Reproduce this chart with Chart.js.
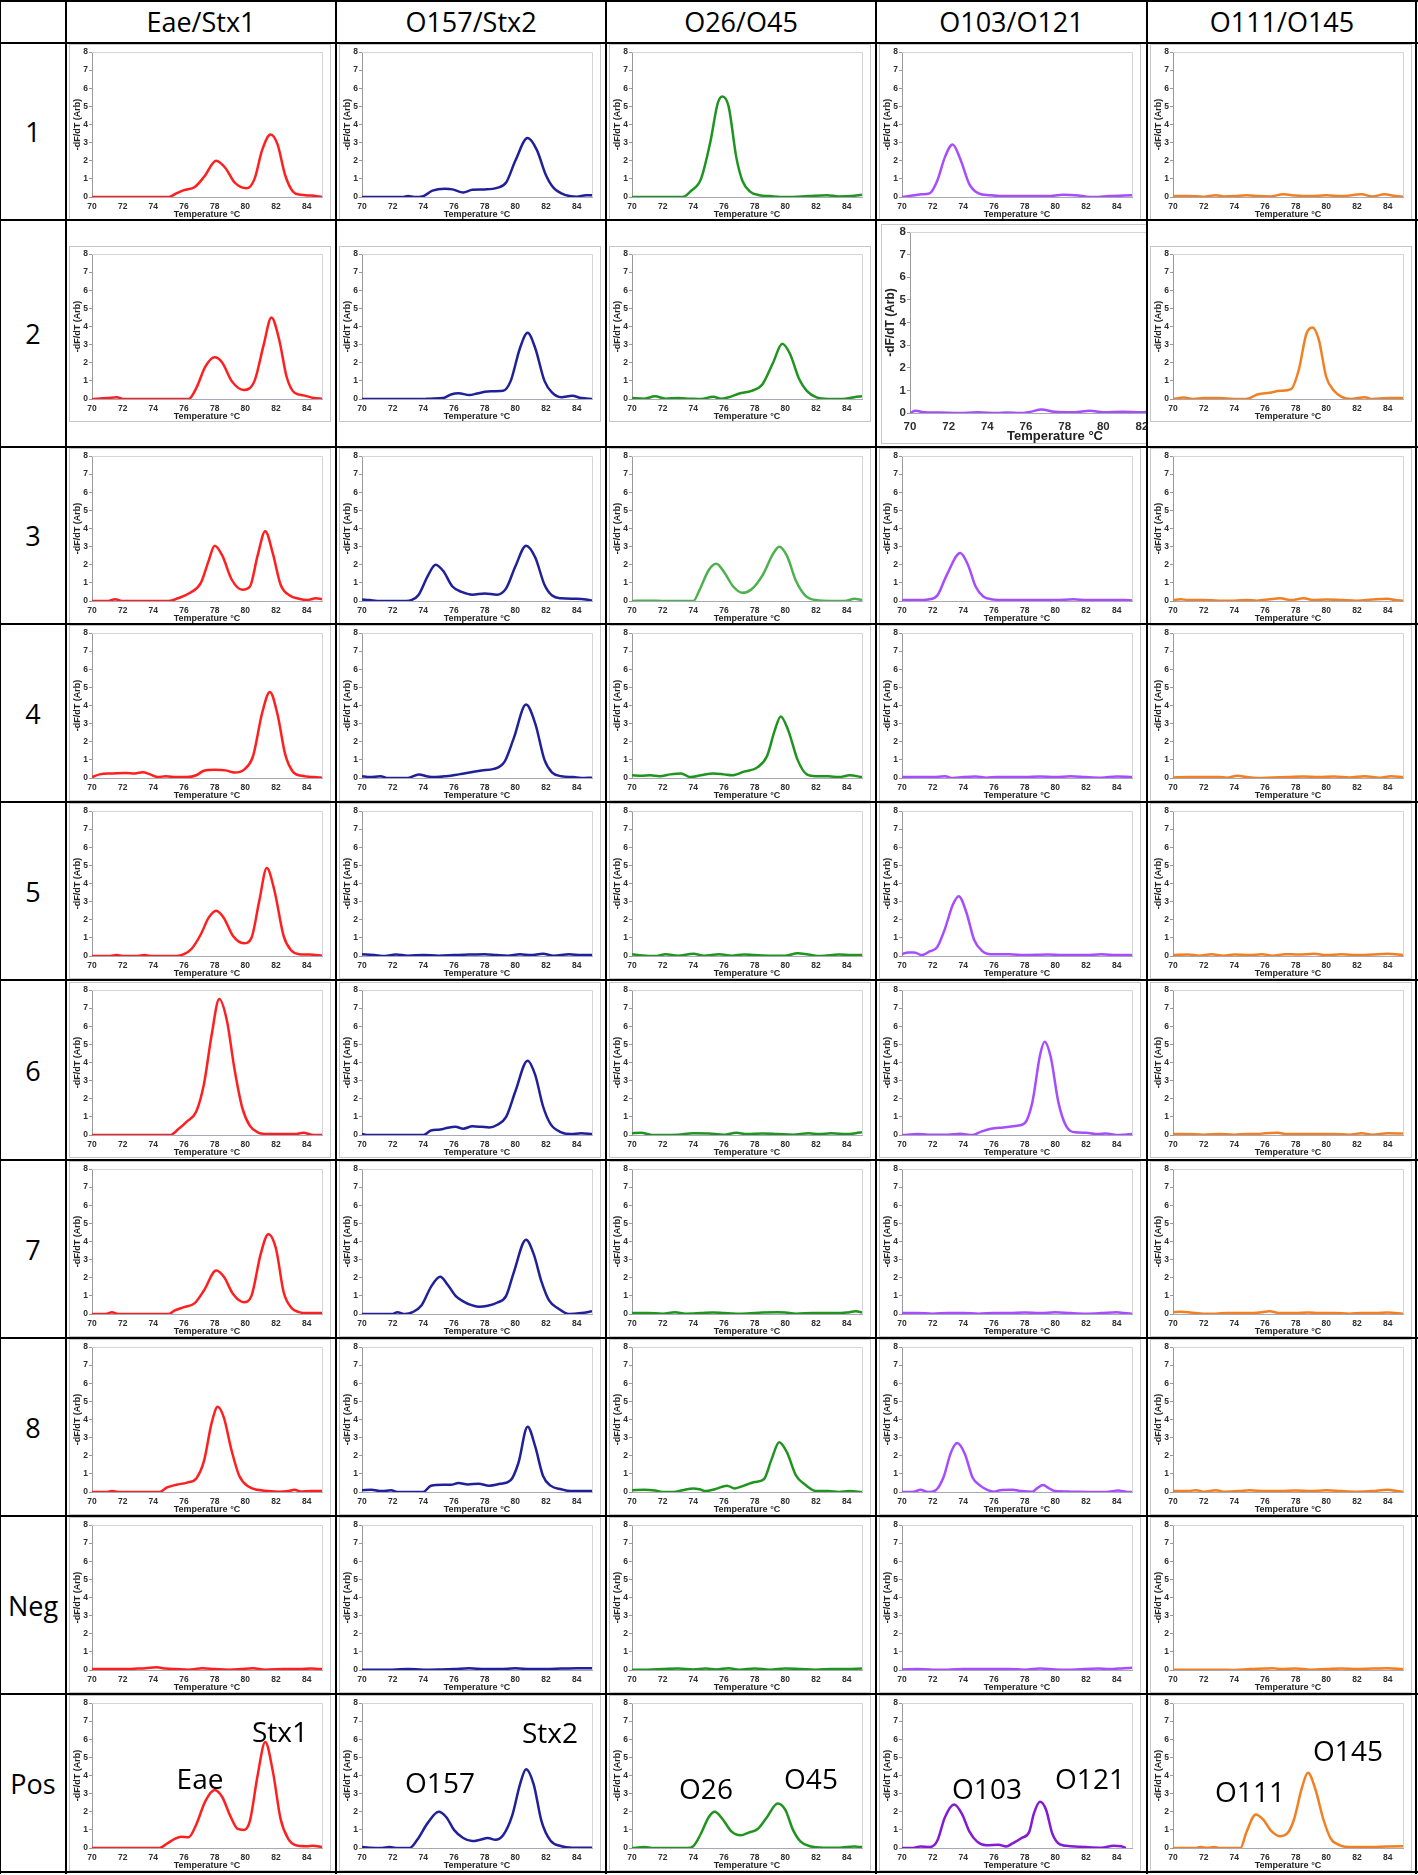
<!DOCTYPE html>
<html>
<head>
<meta charset="utf-8">
<script src="https://cdn.jsdelivr.net/npm/chart.js@4.4.1/dist/chart.umd.min.js"></script>
<style>
  body { margin: 0; background: #fff; }
  #page { position: relative; width: 1418px; height: 1875px; overflow: hidden; background: #fff; }
  .rule { position: absolute; background: #000; z-index: 5; }
  .label { position: absolute; display: flex; align-items: center; justify-content: center;
           font-family: 'Open Sans', 'Liberation Sans', sans-serif; font-size: 27px; color: #000; }
  .cell { position: absolute; overflow: hidden; }
  .frame { position: absolute; border: 1px solid #c6c6c6; box-sizing: border-box; }
  .cell canvas { position: absolute; }
  .note { position: absolute; transform: translate(-50%, -50%); white-space: nowrap; z-index: 4;
          font-family: 'Open Sans', 'Liberation Sans', sans-serif; font-size: 28px; color: #000; }
</style>
</head>
<body>
<div id="page"></div>
<script>
// ---- data ----
const columns = ['Eae/Stx1', 'O157/Stx2', 'O26/O45', 'O103/O121', 'O111/O145'];
const rowLabels = ['1', '2', '3', '4', '5', '6', '7', '8', 'Neg', 'Pos'];
const xTicks = [70, 72, 74, 76, 78, 80, 82, 84];
const yTicks = [0, 1, 2, 3, 4, 5, 6, 7, 8];

// melt curves: [temperature °C, -dF/dT]
const eaeStx1_1 = [[70,0],[75,0],[75.5,0.2],[76,0.38],[76.7,0.55],[77.3,1.1],[78.1,2.0],[78.7,1.6],[79.3,0.8],[80.1,0.48],[80.6,1.0],[81.1,2.6],[81.65,3.45],[82.1,2.9],[82.6,1.2],[83.1,0.3],[83.6,0.12],[84.3,0.08],[85,0]];
const o157Stx2_1 = [[70,0],[72.7,0],[73,0.05],[73.4,0],[74,0.05],[74.6,0.35],[75.4,0.45],[75.9,0.42],[76.6,0.25],[77.2,0.4],[78,0.42],[78.8,0.5],[79.4,0.8],[80,2.0],[80.8,3.25],[81.4,2.6],[82,1.2],[82.5,0.5],[83.3,0.1],[84,0.02],[84.6,0.1],[85,0.1]];
const o26O45_1 = [[70,0],[73.3,0],[73.8,0.3],[74.5,1.0],[75.1,3.0],[75.6,5.2],[75.9,5.55],[76.3,5.0],[76.8,2.2],[77.2,0.9],[77.7,0.3],[78.3,0.1],[79,0.05],[80,0],[81.5,0.05],[82.7,0.1],[83.5,0.03],[84.3,0.05],[85,0.12]];
const o103O121_1 = [[70,0],[70.8,0.1],[71.3,0.15],[71.8,0.2],[72.3,0.9],[72.8,2.2],[73.3,2.9],[73.8,2.1],[74.4,0.7],[75,0.2],[75.7,0.1],[76.5,0.05],[78,0.05],[79.5,0.05],[80.5,0.12],[81.5,0.08],[82,0.02],[82.5,0],[83.5,0.05],[85,0.1]];
const o111O145_1 = [[70,0.05],[71,0.05],[72,0.02],[72.8,0.1],[73.3,0.03],[74,0.05],[74.8,0.1],[75.6,0.05],[76.3,0.03],[77.2,0.15],[78,0.08],[79,0.05],[80,0.1],[81,0.05],[82.3,0.15],[83,0.03],[83.8,0.15],[84.5,0.05],[85,0.02]];

const eaeStx1_2 = [[70,0],[71,0.05],[71.6,0.1],[72.1,0],[76.3,0],[76.8,0.6],[77.4,1.8],[78,2.3],[78.5,2.0],[79.1,1.0],[79.9,0.5],[80.6,1.0],[81.2,3.0],[81.7,4.5],[82.2,3.3],[82.7,1.2],[83.2,0.35],[83.8,0.2],[84.5,0.05],[85,0.02]];
const o157Stx2_2 = [[70,0],[74,0],[74.5,0.02],[75.3,0.05],[75.8,0.25],[76.3,0.32],[77,0.22],[77.5,0.3],[78.2,0.42],[79.2,0.45],[79.7,1.0],[80.3,2.8],[80.8,3.65],[81.3,2.8],[81.9,1.0],[82.4,0.35],[83,0.1],[83.7,0.18],[84.3,0.05],[85,0]];
const o26O45_2 = [[70,0.05],[70.8,0.02],[71.5,0.15],[72.2,0.02],[73,0.05],[73.8,0.02],[74.5,0],[75.3,0.12],[75.8,0.02],[76.3,0.1],[77,0.3],[77.8,0.45],[78.5,0.8],[79.2,2.0],[79.8,3.05],[80.3,2.5],[80.9,1.1],[81.4,0.45],[82,0.1],[82.8,0],[83.7,0],[84.5,0.1],[85,0.15]];
const o103O121_2 = [[70,0],[70.3,0.1],[70.7,0.03],[71.5,0.02],[72.5,0],[73.5,0.03],[74.5,0],[75,0.02],[75.7,0],[76.2,0.05],[76.8,0.15],[77.5,0.05],[78.5,0.03],[79.3,0.1],[80,0.03],[81,0.05],[82,0.03],[82.5,0.08],[83.5,0.05],[85,0.05]];
const o111O145_2 = [[70,0],[70.7,0.08],[71.3,0],[72,0.05],[73,0.05],[73.5,0.03],[74.5,0],[75,0.05],[75.5,0.25],[76.3,0.35],[77,0.45],[77.7,0.55],[78.2,1.6],[78.7,3.6],[79.1,3.95],[79.5,3.3],[80,1.2],[80.5,0.45],[81,0.12],[81.6,0],[82.5,0.1],[83,0],[84,0.05],[85,0.05]];

const eaeStx1_3 = [[70,0],[71,0],[71.5,0.1],[72,0],[75,0],[75.6,0.15],[76.4,0.45],[77.1,1.0],[77.6,2.2],[78,3.05],[78.5,2.5],[79.1,1.2],[79.8,0.62],[80.3,0.8],[80.8,2.5],[81.3,3.85],[81.8,2.6],[82.3,0.9],[82.9,0.3],[83.5,0.12],[84,0.05],[84.6,0.15],[85,0.1]];
const o157Stx2_3 = [[70,0.08],[70.5,0.05],[71,0],[72.5,0],[73.2,0.05],[73.7,0.35],[74.3,1.4],[74.8,2.0],[75.3,1.65],[75.9,0.8],[76.5,0.5],[77.2,0.35],[78,0.42],[78.8,0.35],[79.4,0.7],[80,1.9],[80.7,3.05],[81.3,2.4],[81.9,0.9],[82.4,0.3],[83,0.15],[84,0.12],[84.6,0.08],[85,0.02]];
const o26O45_3 = [[70,0],[71,0.02],[72.2,0],[74,0],[74.4,0.6],[75,1.7],[75.5,2.05],[76,1.6],[76.6,0.8],[77.2,0.45],[77.8,0.65],[78.5,1.4],[79.2,2.6],[79.6,3.0],[80.1,2.5],[80.7,1.1],[81.3,0.3],[82,0.05],[83,0],[84,0.02],[84.5,0.12],[85,0.05]];
const o103O121_3 = [[70,0.05],[71,0.05],[71.7,0.08],[72.3,0.3],[72.9,1.4],[73.8,2.65],[74.3,2.0],[74.8,0.8],[75.3,0.25],[75.8,0.1],[77,0.05],[78.5,0.05],[80,0.05],[81.2,0.1],[82,0.05],[83.5,0.05],[84.5,0.05],[85,0.03]];
const o111O145_3 = [[70,0.05],[70.5,0.1],[71,0.05],[72,0.05],[73,0.02],[74,0.02],[74.8,0.05],[75.5,0.02],[76.3,0.1],[77,0.15],[77.7,0.05],[78.5,0.15],[79.2,0.05],[80,0.08],[81,0.05],[82,0.02],[83,0.08],[84,0.12],[84.5,0.05],[85,0.02]];

const eaeStx1_4 = [[70,0.05],[70.5,0.2],[71.3,0.25],[72.2,0.28],[72.8,0.25],[73.3,0.32],[73.8,0.2],[74.3,0.05],[74.8,0.1],[75.5,0.05],[76.2,0.05],[76.8,0.15],[77.3,0.4],[78,0.45],[78.7,0.42],[79.3,0.3],[79.9,0.45],[80.5,1.2],[81.1,3.6],[81.6,4.75],[82.1,3.5],[82.6,1.3],[83.1,0.35],[83.7,0.12],[84.5,0.05],[85,0.02]];
const o157Stx2_4 = [[70,0.1],[70.5,0.05],[71.2,0.1],[71.7,0],[73,0],[73.7,0.2],[74.3,0.08],[74.8,0.05],[75.5,0.1],[76.3,0.2],[77,0.3],[77.8,0.42],[78.6,0.5],[79.3,0.9],[79.9,2.2],[80.7,4.05],[81.3,3.0],[81.9,1.0],[82.4,0.3],[83,0.1],[83.8,0.05],[84.3,0],[85,0.02]];
const o26O45_4 = [[70,0.15],[70.6,0.12],[71.2,0.15],[71.8,0.1],[72.5,0.2],[73.2,0.25],[73.8,0.05],[74.5,0.15],[75.3,0.25],[76,0.2],[76.5,0.15],[77.3,0.35],[78.2,0.6],[78.8,1.2],[79.3,2.6],[79.7,3.4],[80.2,2.6],[80.8,1.0],[81.4,0.2],[82,0.1],[82.8,0.1],[83.5,0.05],[84.2,0.15],[85,0.05]];
const o103O121_4 = [[70,0.05],[71,0.05],[72,0.05],[72.8,0.1],[73.3,0],[74,0.05],[74.8,0.08],[75.5,0.02],[76.2,0.05],[77,0.05],[78,0.05],[79,0.08],[80,0.05],[81,0.1],[82,0.05],[83,0.02],[84,0.08],[85,0.05]];
const o111O145_4 = [[70,0.03],[71,0.05],[72,0.05],[73,0.05],[73.5,0.02],[74.2,0.12],[74.8,0.05],[75.5,0],[76.5,0.03],[77.5,0.05],[78.5,0.08],[79.5,0.05],[80.5,0.08],[81.5,0.03],[82.5,0.1],[83.5,0.02],[84.2,0.1],[85,0.05]];

const eaeStx1_5 = [[70,0],[71.2,0],[71.6,0.05],[72,0],[73,0],[73.4,0.05],[73.8,0],[75.5,0],[76,0.1],[76.5,0.4],[77.1,1.2],[77.6,2.1],[78.1,2.5],[78.6,2.1],[79.2,1.1],[79.9,0.7],[80.4,1.0],[80.9,3.0],[81.4,4.85],[81.9,3.6],[82.5,1.1],[83,0.3],[83.5,0.1],[84.2,0.08],[85,0.02]];
const o157Stx2_5 = [[70,0.1],[70.8,0.05],[71.5,0],[72.2,0.08],[73,0.02],[74,0.05],[75,0.02],[76,0.05],[77,0.08],[78,0.1],[78.8,0.05],[79.5,0.02],[80.3,0.1],[81,0.05],[81.8,0.12],[82.5,0.02],[83.5,0.1],[84.3,0.05],[85,0.05]];
const o26O45_5 = [[70,0.1],[70.7,0.03],[71.5,0],[72.2,0.1],[73,0.02],[74,0.12],[74.7,0.02],[75.7,0.1],[76.5,0.02],[77.3,0.08],[78,0.05],[79,0.02],[80,0.02],[80.8,0.15],[81.5,0.08],[82.3,0],[83.5,0.08],[84.3,0.05],[85,0.05]];
const o103O121_5 = [[70,0.1],[70.4,0.2],[70.8,0.2],[71.3,0.05],[71.8,0.25],[72.3,0.5],[72.8,1.5],[73.3,2.8],[73.7,3.3],[74.2,2.4],[74.7,0.9],[75.2,0.3],[75.8,0.1],[77,0.1],[78,0.05],[79.5,0.08],[80.5,0.05],[82,0.05],[83,0.1],[84,0.05],[85,0.05]];
const o111O145_5 = [[70,0.05],[71,0.08],[71.7,0.02],[72.5,0.1],[73.3,0.02],[74,0.08],[75,0.05],[75.8,0.1],[76.5,0.02],[77.3,0.1],[78.2,0.08],[79.2,0.12],[80,0.05],[81,0.1],[82,0.05],[83,0.08],[84,0.12],[85,0.05]];

const eaeStx1_6 = [[70,0],[75.1,0],[75.6,0.3],[76.2,0.75],[76.8,1.3],[77.3,2.8],[77.8,5.5],[78.3,7.5],[78.8,6.3],[79.3,3.6],[79.8,1.5],[80.3,0.5],[80.8,0.15],[81.5,0.05],[82.5,0.05],[83.2,0.05],[83.8,0.12],[84.3,0.02],[85,0]];
const o157Stx2_6 = [[70,0.05],[70.4,0],[74,0],[74.5,0.25],[75.1,0.3],[75.6,0.4],[76.1,0.45],[76.6,0.35],[77.2,0.48],[77.8,0.45],[78.3,0.42],[78.8,0.55],[79.4,1.0],[80,2.4],[80.8,4.1],[81.3,3.3],[81.8,1.6],[82.3,0.6],[83,0.15],[83.6,0.05],[84.3,0.1],[85,0.05]];
const o26O45_6 = [[70,0.1],[70.6,0.12],[71.2,0.02],[72,0],[73,0.02],[74,0.1],[75,0.08],[76,0.02],[76.8,0.12],[77.5,0.05],[78.5,0.08],[79.5,0.05],[80.5,0.02],[81.5,0.1],[82.2,0.05],[83,0.1],[84,0.05],[84.6,0.1],[85,0.15]];
const o103O121_6 = [[70,0],[71,0.05],[71.7,0.02],[73,0.02],[73.8,0.07],[74.6,0],[75.2,0.2],[75.8,0.35],[76.6,0.42],[77.4,0.5],[78,0.65],[78.5,1.8],[79,4.4],[79.3,5.15],[79.7,4.3],[80.2,1.8],[80.7,0.5],[81.3,0.15],[82,0.12],[82.8,0.05],[83.3,0.08],[84,0],[84.5,0.02],[85,0.05]];
const o111O145_6 = [[70,0.05],[71,0.05],[72,0.02],[73,0.05],[74,0.02],[74.8,0.05],[75.5,0.05],[76,0.1],[76.8,0.12],[77.5,0.05],[78.5,0.05],[79.5,0.05],[80.5,0.05],[81.5,0.02],[82.3,0.1],[83,0.02],[84,0.1],[85,0.08]];

const eaeStx1_7 = [[70,0],[70.9,0],[71.3,0.1],[71.7,0],[75,0],[75.4,0.2],[76,0.38],[76.7,0.6],[77.3,1.3],[78.1,2.4],[78.6,2.05],[79.2,1.1],[79.9,0.65],[80.4,1.0],[81,3.3],[81.5,4.4],[82,3.6],[82.5,1.2],[83,0.35],[83.5,0.1],[84,0.05],[85,0.05]];
const o157Stx2_7 = [[70,0],[72,0],[72.3,0.1],[72.8,0],[73.3,0.1],[73.9,0.5],[74.5,1.5],[75.1,2.05],[75.6,1.6],[76.1,1.0],[76.6,0.7],[77.1,0.5],[77.6,0.4],[78.2,0.45],[78.8,0.62],[79.4,1.0],[79.9,2.3],[80.7,4.1],[81.2,3.3],[81.7,1.8],[82.2,0.75],[82.8,0.3],[83.5,0],[84.3,0.05],[85,0.15]];
const o26O45_7 = [[70,0.05],[71,0.05],[72,0.02],[72.8,0.1],[73.5,0.02],[74.5,0.05],[75.3,0.08],[76,0.05],[76.8,0.02],[77.5,0.03],[78.5,0.08],[79.5,0.1],[80,0.08],[80.7,0.02],[81.8,0.05],[82.5,0.05],[83.3,0.05],[84,0.08],[84.6,0.15],[85,0.08]];
const o103O121_7 = [[70,0.05],[71,0.05],[72,0.02],[73,0.05],[74,0.05],[75,0.02],[76,0.05],[77,0.05],[78,0.08],[79,0.05],[80,0.1],[81,0.05],[82,0.02],[83,0.05],[84,0.1],[84.5,0.05],[85,0.02]];
const o111O145_7 = [[70,0.1],[70.5,0.12],[71,0.1],[71.5,0.05],[72,0.02],[72.8,0.02],[73.5,0.05],[74.3,0.05],[75,0.05],[75.8,0.1],[76.3,0.15],[77,0.05],[78,0.05],[78.8,0.08],[79.5,0.05],[80.5,0.05],[81.5,0.02],[82.3,0.05],[83.2,0.05],[84,0.08],[85,0.02]];

const eaeStx1_8 = [[70,0],[71,0],[71.3,0.05],[71.7,0],[74.4,0],[74.9,0.25],[75.5,0.4],[76.2,0.52],[76.8,0.75],[77.3,1.7],[77.8,3.8],[78.2,4.7],[78.6,4.1],[79.1,2.3],[79.6,0.9],[80.2,0.3],[80.8,0.12],[81.5,0.05],[82.2,0.02],[82.8,0.05],[83.2,0.12],[83.6,0.03],[84.3,0.05],[85,0.05]];
const o157Stx2_8 = [[70,0.1],[70.6,0.12],[71.3,0.05],[71.9,0.1],[72.3,0],[74,0],[74.5,0.35],[75.3,0.4],[75.8,0.4],[76.3,0.5],[76.9,0.42],[77.6,0.45],[78.3,0.35],[79,0.45],[79.7,0.65],[80.2,1.6],[80.8,3.6],[81.3,2.5],[81.8,0.9],[82.3,0.35],[83,0.15],[83.6,0.05],[85,0.05]];
const o26O45_8 = [[70,0.1],[70.8,0.12],[71.5,0.08],[72,0],[72.7,0],[73.3,0.1],[74,0.2],[74.4,0.15],[74.8,0.05],[75.4,0.15],[76.2,0.35],[76.7,0.2],[77.3,0.35],[78,0.55],[78.6,0.7],[79.1,1.8],[79.6,2.75],[80.1,2.2],[80.7,0.9],[81.3,0.4],[82,0.05],[82.8,0.05],[83.5,0],[84.2,0.05],[85,0]];
const o103O121_8 = [[70,0],[70.8,0.02],[71.2,0.12],[71.7,0],[72.2,0.1],[72.7,0.8],[73.2,2.2],[73.6,2.7],[74.1,2.1],[74.6,0.8],[75.1,0.35],[75.6,0.1],[76,0.02],[76.4,0.1],[77.2,0.12],[77.8,0.05],[78.5,0.02],[78.8,0.2],[79.2,0.38],[79.6,0.2],[80,0.05],[81,0.02],[82.5,0],[83.5,0.02],[84.1,0.08],[84.6,0.02],[85,0]];
const o111O145_8 = [[70,0.05],[71,0.05],[71.5,0.1],[72,0.02],[72.8,0.1],[73.3,0.02],[74.3,0.05],[75,0.1],[76,0.05],[77,0.05],[78,0.08],[79,0.05],[80,0.1],[81,0.05],[82,0.02],[83,0.05],[84,0.12],[84.6,0.05],[85,0.02]];

const eaeStx1_neg = [[70,0.05],[71,0.05],[72,0.05],[73,0.08],[73.5,0.1],[74.2,0.15],[74.8,0.08],[75.5,0.05],[76.3,0.02],[77.2,0.1],[78,0.05],[79,0.02],[79.7,0.05],[80.5,0.1],[81.3,0.02],[82.5,0.05],[83.5,0.05],[84.3,0.08],[85,0.05]];
const o157Stx2_neg = [[70,0.02],[71,0.02],[72,0.02],[73,0.05],[74,0.02],[75,0.03],[76,0.05],[77,0.1],[78,0.05],[79,0.05],[80,0.1],[81,0.05],[82,0.05],[83,0.08],[84,0.1],[85,0.1]];
const o26O45_neg = [[70,0.02],[71,0.02],[72,0.05],[73,0.08],[74,0.03],[74.8,0.08],[75.5,0.03],[76.3,0.1],[77,0.02],[78,0.08],[79,0.02],[80,0.08],[81,0.05],[82,0.02],[83,0.05],[84,0.05],[85,0.08]];
const o103O121_neg = [[70,0.03],[71,0.05],[72,0.02],[73,0.02],[74,0.05],[75,0.05],[76,0.05],[77,0.05],[78,0.02],[79,0.08],[80,0.03],[81,0.02],[82.8,0.08],[83.5,0.05],[84.5,0.1],[85,0.12]];
const o111O145_neg = [[70,0.02],[71,0.02],[72,0.02],[73,0.02],[74,0],[75,0.05],[76,0.08],[76.5,0.1],[77,0.05],[78,0.08],[79,0.02],[80,0.05],[81,0.08],[82,0.05],[83,0.08],[84,0.1],[85,0.05]];

const eaeStx1_pos = [[70,0],[74.4,0],[74.9,0.25],[75.4,0.5],[75.8,0.62],[76.3,0.6],[76.8,1.3],[77.4,2.6],[78,3.2],[78.5,2.8],[79,1.8],[79.5,1.05],[79.9,1.0],[80.3,1.5],[80.8,4.0],[81.3,5.85],[81.8,4.2],[82.3,1.6],[82.8,0.5],[83.3,0.15],[84,0.1],[84.4,0.12],[85,0.05]];
const o157Stx2_pos = [[70,0.05],[70.5,0.02],[71.3,0],[71.8,0.05],[72.2,0],[73.1,0],[73.6,0.45],[74.3,1.4],[75,2.0],[75.5,1.7],[76,1.0],[76.6,0.55],[77.2,0.38],[77.7,0.45],[78.2,0.55],[78.7,0.45],[79.2,0.7],[79.8,1.8],[80.3,3.5],[80.7,4.35],[81.2,3.5],[81.7,1.5],[82.3,0.4],[83,0.1],[83.7,0.02],[84.5,0.02],[85,0.02]];
const o26O45_pos = [[70,0],[70.8,0.05],[71.3,0],[73.6,0],[74,0.1],[74.5,0.8],[75,1.7],[75.4,2.0],[75.9,1.6],[76.5,0.9],[77.1,0.7],[77.6,0.85],[78.2,1.05],[78.8,1.7],[79.5,2.45],[80,2.1],[80.5,1.0],[81,0.35],[81.6,0.1],[82.5,0.02],[83.5,0.02],[84.5,0.08],[85,0.05]];
const o103O121_pos = [[70,0],[70.7,0],[71.2,0.08],[71.8,0.05],[72.3,0.4],[72.8,1.7],[73.4,2.4],[73.9,1.9],[74.4,0.9],[74.9,0.35],[75.5,0.15],[76.3,0.18],[76.8,0.08],[77.2,0.25],[77.8,0.55],[78.3,0.9],[78.6,1.9],[79,2.55],[79.4,2.1],[79.8,0.8],[80.3,0.2],[81,0.1],[82,0.05],[83,0.02],[83.8,0.12],[84.3,0.1],[84.6,0]];
const o111O145_pos = [[70,0],[71.5,0],[71.8,0.05],[72.2,0],[72.7,0.05],[73,0],[74.4,0],[74.8,0.9],[75.4,1.85],[75.9,1.55],[76.4,0.95],[77,0.65],[77.5,0.85],[77.9,1.6],[78.4,3.3],[78.8,4.15],[79.3,3.2],[79.8,1.6],[80.3,0.5],[80.9,0.15],[81.5,0.05],[82.5,0.05],[84,0.08],[85,0.1]];

const posLabels = [['Eae', 'Stx1'], ['O157', 'Stx2'], ['O26', 'O45'], ['O103', 'O121'], ['O111', 'O145']];

// ---- layout ----
const colColors = ['#ff1f1f', '#20209a', '#1f951f', '#a64dff', '#f28022'];
const colEdges = [0, 66, 336, 606, 876, 1147, 1417];
const rowEdges = [0, 43, 220, 447, 624, 802, 980, 1160, 1338, 1516, 1694, 1872];
const notePos = [[[200, 1778], [280, 1731]], [[440, 1782], [550, 1732]], [[706, 1788], [811, 1778]], [[987, 1788], [1090, 1778]], [[1250, 1791], [1348, 1750]]];

const curves = [
    [eaeStx1_1, o157Stx2_1, o26O45_1, o103O121_1, o111O145_1],
    [eaeStx1_2, o157Stx2_2, o26O45_2, o103O121_2, o111O145_2],
    [eaeStx1_3, o157Stx2_3, o26O45_3, o103O121_3, o111O145_3],
    [eaeStx1_4, o157Stx2_4, o26O45_4, o103O121_4, o111O145_4],
    [eaeStx1_5, o157Stx2_5, o26O45_5, o103O121_5, o111O145_5],
    [eaeStx1_6, o157Stx2_6, o26O45_6, o103O121_6, o111O145_6],
    [eaeStx1_7, o157Stx2_7, o26O45_7, o103O121_7, o111O145_7],
    [eaeStx1_8, o157Stx2_8, o26O45_8, o103O121_8, o111O145_8],
    [eaeStx1_neg, o157Stx2_neg, o26O45_neg, o103O121_neg, o111O145_neg],
    [eaeStx1_pos, o157Stx2_pos, o26O45_pos, o103O121_pos, o111O145_pos]
];

const smallSpec = { w: 262, h: 176, pad: { left: 3, top: 8, right: 9, bottom: 0 }, yw: 20, xh: 23,
    tick: 8.5, xTitle: 9, yTitle: 9, xPad: 5, line: 2.5 };
const bigSpec = { w: 340, h: 220, pad: { left: 2, top: 8, right: 21, bottom: 0 }, yw: 27, xh: 31,
    tick: 11.5, xTitle: 13, yTitle: 12, xPad: 7, line: 2.5 };

const page = document.getElementById('page');

const addDiv = (cls, css, text) => {
    const d = document.createElement('div');
    d.className = cls;
    Object.assign(d.style, css);
    if (text !== undefined) d.textContent = text;
    page.appendChild(d);
    return d;
};

// light frame on top and right of the plot area
const plotFrame = {
    id: 'plotFrame',
    beforeDatasetsDraw(chart) {
        const { ctx, chartArea: a } = chart;
        ctx.save();
        ctx.strokeStyle = '#d4d4d4';
        ctx.lineWidth = 1;
        ctx.beginPath();
        ctx.moveTo(a.left, a.top + 0.5);
        ctx.lineTo(a.right + 0.5, a.top + 0.5);
        ctx.lineTo(a.right + 0.5, a.bottom);
        ctx.stroke();
        ctx.restore();
    }
};

const tickFamily = "'Liberation Sans Narrow', 'Liberation Sans', Arial, sans-serif";
const titleFamily = "'Liberation Sans', Arial, sans-serif";

const drawCurve = (canvas, curve, color, s) => new Chart(canvas, {
    type: 'line',
    data: {
        datasets: [{
            data: curve,
            borderColor: color,
            borderWidth: s.line,
            pointRadius: 0,
            cubicInterpolationMode: 'monotone',
            fill: false
        }]
    },
    options: {
        responsive: false,
        animation: false,
        events: [],
        layout: { padding: s.pad },
        plugins: { legend: { display: false }, tooltip: { enabled: false } },
        scales: {
            x: {
                type: 'linear', min: 70, max: 85,
                afterBuildTicks: sc => { sc.ticks = xTicks.map(value => ({ value })); },
                afterFit: sc => { sc.height = s.xh; },
                grid: { drawOnChartArea: false, drawTicks: false },
                border: { color: '#a8a8b8' },
                ticks: { padding: s.xPad, color: '#2e2e2e', autoSkip: false, maxRotation: 0,
                         font: { family: tickFamily, size: s.tick, weight: 'bold' } },
                title: { display: true, text: 'Temperature °C', color: '#222', padding: 0,
                         font: { family: titleFamily, size: s.xTitle, weight: 'bold' } }
            },
            y: {
                min: 0, max: 8,
                afterBuildTicks: sc => { sc.ticks = yTicks.map(value => ({ value })); },
                afterFit: sc => { sc.width = s.yw; },
                grid: { drawOnChartArea: false, drawTicks: true, tickLength: 3, color: '#9a9a9a' },
                border: { color: '#9a9a9a' },
                ticks: { padding: 1, color: '#2e2e2e',
                         font: { family: tickFamily, size: s.tick, weight: 'bold' } },
                title: { display: true, text: '-dF/dT (Arb)', color: '#222', padding: 0,
                         font: { family: titleFamily, size: s.yTitle, weight: 'bold' } }
            }
        }
    },
    plugins: [plotFrame]
});

// headers and row labels
columns.forEach((name, c) => {
    addDiv('label', { left: colEdges[c + 1] + 'px', top: '0px',
        width: (colEdges[c + 2] - colEdges[c + 1]) + 'px', height: rowEdges[1] + 'px' }, name);
});
rowLabels.forEach((name, r) => {
    addDiv('label', { left: '0px', top: rowEdges[r + 1] + 'px',
        width: colEdges[1] + 'px', height: (rowEdges[r + 2] - rowEdges[r + 1]) + 'px' }, name);
});

// chart cells
curves.forEach((row, r) => {
    row.forEach((curve, c) => {
        const left = colEdges[c + 1], top = rowEdges[r + 1];
        const cw = colEdges[c + 2] - left, ch = rowEdges[r + 2] - top;
        const cell = addDiv('cell', { left: left + 'px', top: top + 'px', width: cw + 'px', height: ch + 'px' });
        const big = (r === 1 && c === 3);
        const s = big ? bigSpec : smallSpec;
        const bx = big ? 5 : 3;
        const by = big ? 4 : Math.round((ch - s.h) / 2);
        const frame = document.createElement('div');
        frame.className = 'frame';
        Object.assign(frame.style, { left: bx + 'px', top: by + 'px', width: s.w + 'px', height: s.h + 'px' });
        cell.appendChild(frame);
        const canvas = document.createElement('canvas');
        canvas.width = s.w;
        canvas.height = s.h;
        Object.assign(canvas.style, { left: bx + 'px', top: by + 'px', width: s.w + 'px', height: s.h + 'px' });
        cell.appendChild(canvas);
        let color = colColors[c];
        if (r === 2 && c === 2) color = '#4db14d';
        if (r === 9 && c === 3) color = '#8419d6';
        drawCurve(canvas, curve, color, s);
    });
});

// peak names in the positive-control row
posLabels.forEach((pair, c) => {
    pair.forEach((txt, k) => {
        const [x, y] = notePos[c][k];
        addDiv('note', { left: x + 'px', top: y + 'px' }, txt);
    });
});

// table rules
colEdges.forEach(x => {
    addDiv('rule', { left: Math.min(x, 1416) - 1 + 'px', top: '0px', width: '2px', height: '1874px' });
});
rowEdges.forEach(y => {
    addDiv('rule', { left: '0px', top: Math.max(y - 1, 0) + 'px', width: '1418px', height: '2px' });
});
</script>
</body>
</html>
